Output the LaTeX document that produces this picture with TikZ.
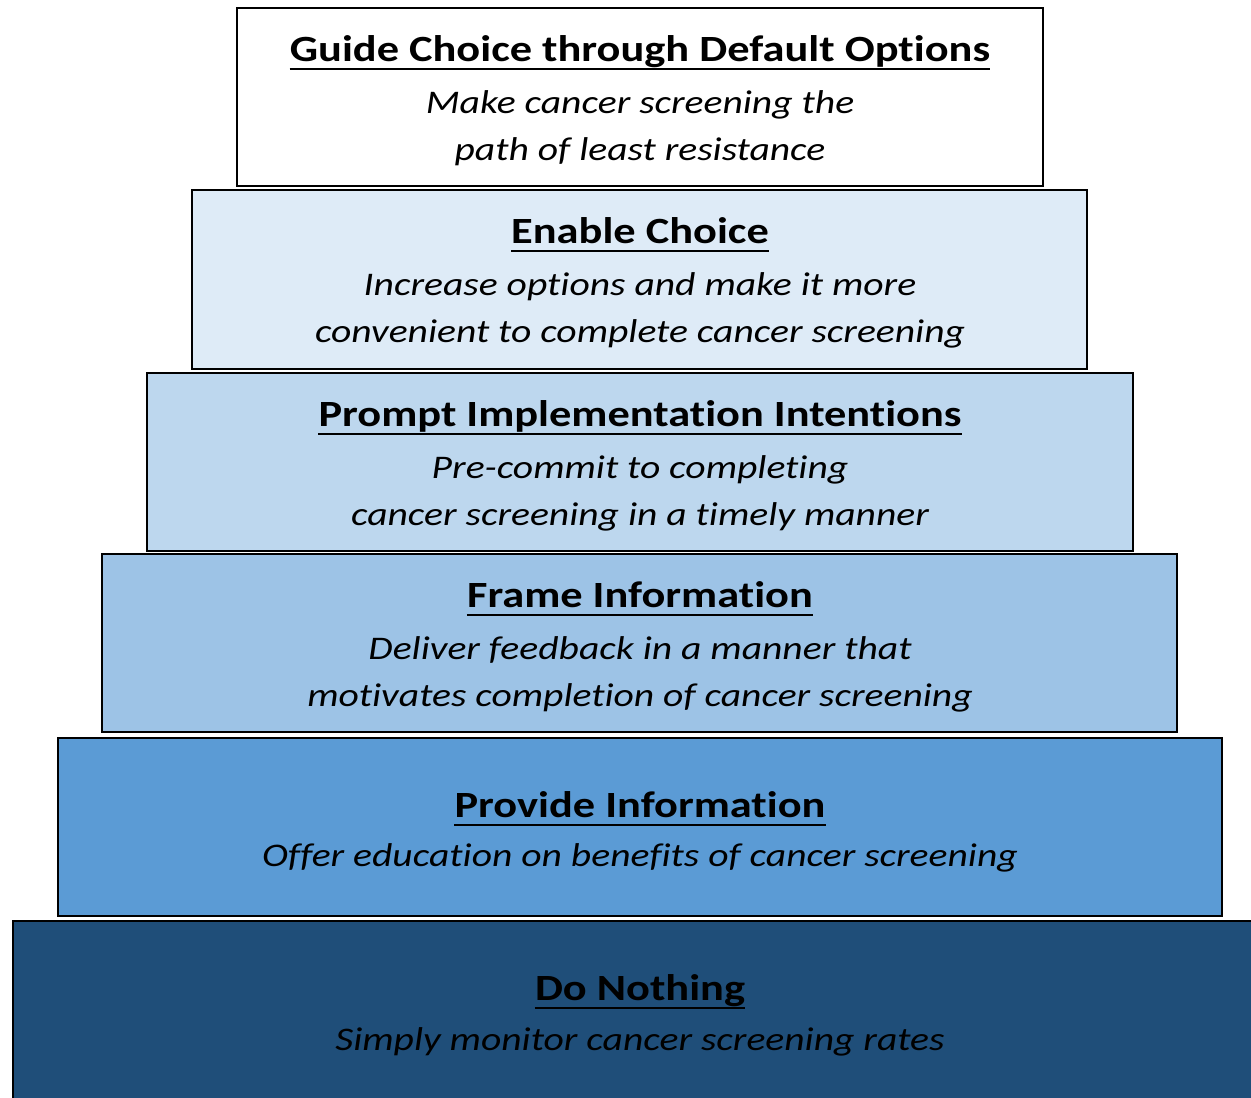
\documentclass[tikz,border=0pt]{standalone}
\usepackage{fontspec}
\setmainfont{Carlito}[FakeStretch=1.2,Ligatures=NoCommon]
\begin{document}
\definecolor{tierA}{HTML}{FFFFFF}
\definecolor{tierB}{HTML}{DEEBF7}
\definecolor{tierC}{HTML}{BDD7EE}
\definecolor{tierD}{HTML}{9DC3E6}
\definecolor{tierE}{HTML}{5B9BD5}
\definecolor{tierF}{HTML}{1F4E79}
\begin{tikzpicture}[x=1pt,y=-1pt,
  tier/.style={draw=black,line width=2pt,rectangle,inner sep=0pt},
  ttl/.style={anchor=base,inner sep=0pt,font=\fontsize{37}{44}\selectfont\bfseries},
  sub/.style={anchor=base,inner sep=0pt,font=\fontsize{33}{40}\selectfont\itshape},
  uline/.style={line width=2.3pt}]
\useasboundingbox (0,0) rectangle (1251,1098);
\clip (0,0) rectangle (1251,1098);
\fill[white] (0,0) rectangle (1251,1098);

% stacked tiers, narrowest on top
\node[tier,fill=tierA,minimum width=806pt,minimum height=178pt] (r1) at (640,97) {};
\node[tier,fill=tierB,minimum width=895pt,minimum height=179pt] (r2) at (639.5,279.5) {};
\node[tier,fill=tierC,minimum width=986pt,minimum height=178pt] (r3) at (640,462) {};
\node[tier,fill=tierD,minimum width=1075pt,minimum height=178pt] (r4) at (639.5,643) {};
\node[tier,fill=tierE,minimum width=1164pt,minimum height=178pt] (r5) at (640,827) {};
\node[tier,fill=tierF,minimum width=1300pt,minimum height=200pt] (r6) at (663,1021) {};

% tier headings and descriptions
\node[ttl] (h1) at (640,61) {Guide Choice through Default Options};
\node[sub] (s1a) at (640,113) {Make cancer screening the};
\node[sub] (s1b) at (640,160) {path of least resistance};

\node[ttl] (h2) at (640,243) {Enable Choice};
\node[sub] (s2a) at (640,295) {Increase options and make it more};
\node[sub] (s2b) at (640,342) {convenient to complete cancer screening};

\node[ttl] (h3) at (640,426) {Prompt Implementation Intentions};
\node[sub] (s3a) at (640,478) {Pre-commit to completing};
\node[sub] (s3b) at (640,525) {cancer screening in a timely manner};

\node[ttl] (h4) at (640,607) {Frame Information};
\node[sub] (s4a) at (640,659) {Deliver feedback in a manner that};
\node[sub] (s4b) at (640,706) {motivates completion of cancer screening};

\node[ttl] (h5) at (640,817) {Provide Information};
\node[sub] (s5a) at (640,866) {Offer education on benefits of cancer screening};

\node[ttl] (h6) at (640,1000) {Do Nothing};
\node[sub] (s6a) at (640,1050) {Simply monitor cancer screening rates};

% heading underlines
\foreach \h in {h1,h2,h3,h4,h5,h6}
  \draw[uline] ([yshift=-8pt]\h.base west) -- ([yshift=-8pt]\h.base east);
\end{tikzpicture}
\end{document}
